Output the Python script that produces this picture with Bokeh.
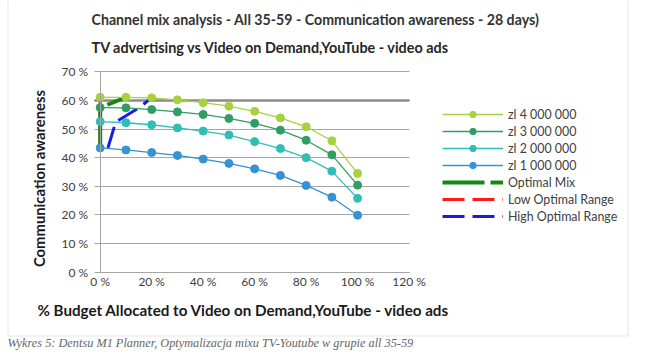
from bokeh.plotting import figure
from bokeh.models import (Range1d, FixedTicker, Label, BoxAnnotation, LinearAxis, Grid,
                          Legend, LegendItem, ColumnDataSource)
from bokeh.embed import file_html
from bokeh.resources import INLINE
import math

# ---- data ----
budget_pct = [0, 10, 20, 30, 40, 50, 60, 70, 80, 90, 100]
aw_4m = [61.1, 61.1, 60.9, 60.2, 59.2, 58.0, 56.2, 53.9, 50.8, 45.9, 34.5]
aw_3m = [57.5, 57.4, 56.8, 56.0, 55.1, 53.7, 52.0, 49.6, 46.1, 41.0, 30.4]
aw_2m = [52.6, 52.2, 51.5, 50.4, 49.3, 47.9, 45.6, 43.2, 40.0, 35.3, 25.8]
aw_1m = [43.4, 42.7, 41.8, 40.8, 39.5, 38.0, 36.1, 33.8, 30.3, 26.2, 19.9]
series_names = ["zl 4 000 000", "zl 3 000 000", "zl 2 000 000", "zl 1 000 000"]

opt_x = [0, 0, 0, 10]
opt_y = [43.4, 52.6, 57.5, 61.1]
low_x = [0, 0, 0, 0]
low_y = [43.4, 52.6, 57.5, 61.1]
high_x = [3, 6, 15, 20]
high_y = [43.4, 52.4, 57.4, 60.9]

ref_level = [60]
x_ticks = [0, 20, 40, 60, 80, 100, 120]
x_tick_labels = ["0 %", "20 %", "40 %", "60 %", "80 %", "100 %", "120 %"]
y_ticks = [0, 10, 20, 30, 40, 50, 60, 70]
y_tick_labels = ["0 %", "10 %", "20 %", "30 %", "40 %", "50 %", "60 %", "70 %"]

title_text = "Channel mix analysis - All 35-59 - Communication awareness - 28 days)"
subtitle_text = "TV advertising vs Video on Demand,YouTube - video ads"
xlabel_text = "% Budget Allocated to Video on Demand,YouTube - video ads"
ylabel_text = "Communication awareness"
caption_text = "Wykres 5: Dentsu M1 Planner, Optymalizacja mixu TV-Youtube w grupie  all 35-59"

colors = ["#a8d13e", "#2f9e63", "#2fbdb4", "#3592d3"]
FONT = "Lato"
GRID = "#a6a6a6"

# layout: the frame covers the whole canvas; the plot area is placed with the ranges
W, H = 655, 360
X0_PX, X120_PX = 99.7, 408.6      # canvas px of x=0 and x=120
Y0_PX, Y70_PX = 271.7, 71.3       # canvas px (from top) of y=0 and y=70
kx = (X120_PX - X0_PX) / 120.0
ky = (Y0_PX - Y70_PX) / 70.0
x_start = -X0_PX / kx
y_start = -(H - Y0_PX) / ky

p = figure(width=W, height=H, output_backend="svg", toolbar_location=None,
           x_range=Range1d(x_start, x_start + W / kx),
           y_range=Range1d(y_start, y_start + H / ky),
           x_axis_location=None, y_axis_location=None,
           min_border=0, outline_line_color=None)
p.grid.visible = False

tick_left = -6 / kx
ygrid = Grid(dimension=1, ticker=FixedTicker(ticks=y_ticks), grid_line_color=GRID,
             cross_bounds=(tick_left, 120))
p.add_layout(ygrid)
refgrid = Grid(dimension=1, ticker=FixedTicker(ticks=ref_level), grid_line_color="#8a8a8a",
               grid_line_width=2.5, cross_bounds=(tick_left, 120))
p.add_layout(refgrid)

xaxis = LinearAxis(fixed_location=0, bounds=(0, 120), ticker=FixedTicker(ticks=x_ticks),
                   major_label_overrides=dict(zip(x_ticks, x_tick_labels)),
                   axis_line_color=GRID, major_tick_out=0, major_tick_in=0,
                   minor_tick_out=0, minor_tick_in=0, major_label_standoff=2)
yaxis = LinearAxis(fixed_location=0, bounds=(0, 70), ticker=FixedTicker(ticks=y_ticks),
                   major_label_overrides=dict(zip(y_ticks, y_tick_labels)),
                   axis_line_color=GRID, major_tick_out=0, major_tick_in=0,
                   minor_tick_out=0, minor_tick_in=0, major_label_standoff=12)
for ax in (xaxis, yaxis):
    ax.major_label_text_font = FONT
    ax.major_label_text_font_size = "12px"
    ax.major_label_text_color = "#404040"
p.add_layout(xaxis, "below")
p.add_layout(yaxis, "left")

# range lines
r_low = p.line(low_x, low_y, line_color="#ff1a1a", line_width=3, line_dash="22 8")
r_opt = p.line(opt_x, opt_y, line_color="#128a12", line_width=4, line_dash="42 6")
r_high = p.line(high_x, high_y, line_color="#1a1ae6", line_width=3, line_dash="22 8")

items = []
for vals, col, name in zip([aw_4m, aw_3m, aw_2m, aw_1m], colors, series_names):
    src = ColumnDataSource(dict(x=budget_pct, y=vals))
    rl = p.line("x", "y", source=src, line_color=col, line_width=1.3)
    rs = p.scatter("x", "y", source=src, size=8, fill_color=col, line_color=col)
    items.append(LegendItem(label=name, renderers=[rl, rs]))
items.append(LegendItem(label="Optimal Mix", renderers=[r_opt]))
items.append(LegendItem(label="Low Optimal Range", renderers=[r_low]))
items.append(LegendItem(label="High Optimal Range", renderers=[r_high]))

legend = Legend(items=items, location=(442, 136), glyph_width=61, glyph_height=16,
                spacing=1, padding=0, margin=0, label_standoff=5,
                label_text_font=FONT, label_text_font_size="12.4px",
                label_text_color="#404040", border_line_color=None,
                background_fill_alpha=0, label_height=16)
p.add_layout(legend)

# texts (screen units: from canvas left / bottom)
p.add_layout(Label(x=91, y=341.5, x_units="screen", y_units="screen", text=title_text,
                   text_font=FONT, text_font_size="14.2px", text_font_style="bold",
                   text_color="#333333", text_baseline="alphabetic"))
p.add_layout(Label(x=91, y=313, x_units="screen", y_units="screen", text=subtitle_text,
                   text_font=FONT, text_font_size="14.4px", text_font_style="bold",
                   text_color="#262626", text_baseline="alphabetic"))
p.add_layout(Label(x=243, y=51, x_units="screen", y_units="screen", text=xlabel_text,
                   text_font=FONT, text_font_size="15.2px", text_font_style="bold",
                   text_color="#1a1a1a", text_baseline="alphabetic", text_align="center"))
p.add_layout(Label(x=38, y=182, x_units="screen", y_units="screen", text=ylabel_text,
                   angle=math.pi / 2, text_font=FONT, text_font_size="14.8px",
                   text_font_style="bold", text_color="#1a1a1a",
                   text_baseline="middle", text_align="center"))
p.add_layout(Label(x=7, y=18, x_units="screen", y_units="screen", text=caption_text,
                   text_font="Liberation Serif", text_font_size="12.3px",
                   text_font_style="italic", text_color="#666666",
                   text_baseline="alphabetic"))

# outer frame box
p.add_layout(BoxAnnotation(left=7.5, right=627.5, bottom=24.5, top=420,
                           left_units="screen", right_units="screen",
                           bottom_units="screen", top_units="screen",
                           fill_alpha=0, line_color="#b0b0b0", line_width=1))

open("out.html", "w").write(file_html(p, INLINE))
